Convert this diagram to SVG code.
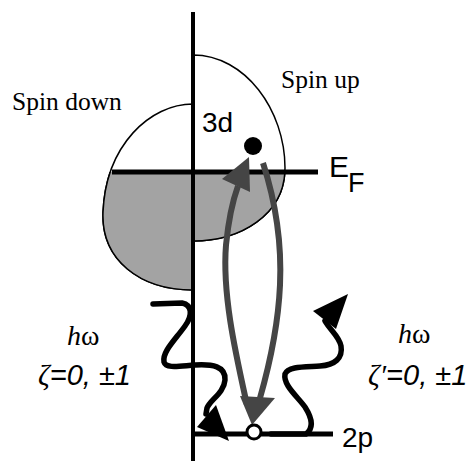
<svg xmlns="http://www.w3.org/2000/svg" width="472" height="461" viewBox="0 0 472 461">
<style>
.band{fill:#fff;stroke:#000;stroke-width:1.5}
.fill{fill:#a3a3a3;stroke:#000;stroke-width:1.5}
.lvl{stroke:#000;stroke-width:5;fill:none}
.gray{fill:none;stroke:#454545;stroke-width:6}
.grayhead{fill:#454545}
.wave{fill:none;stroke:#000;stroke-width:5.5;stroke-linecap:round;stroke-linejoin:round}
.serif{font-family:"Liberation Serif","Times New Roman",serif;fill:#000}
.sans{font-family:"Liberation Sans",Arial,sans-serif;fill:#000}
</style>
<defs>
<clipPath id="below"><rect x="0" y="172" width="472" height="289"/></clipPath>
</defs>
<rect width="472" height="461" fill="#fff"/>
<g id="spin-down-band">
<path class="band" d="M193,104 C150,104 106,145 103,212 C101,260 140,290 193,290 Z"/>
<path class="fill" clip-path="url(#below)" d="M193,104 C150,104 106,145 103,212 C101,260 140,290 193,290 Z"/>
</g>
<g id="spin-up-band">
<path class="band" d="M193,55 C245,55 285,110 285,168 C285,215 240,241 193,241 Z"/>
<path class="fill" clip-path="url(#below)" d="M193,55 C245,55 285,110 285,168 C285,215 240,241 193,241 Z"/>
</g>
<g id="fermi-level">
<line class="lvl" x1="112" y1="172" x2="318" y2="172"/>
<text class="sans" x="329" y="177" font-size="30">E</text>
<text class="sans" x="348" y="192" font-size="27">F</text>
</g>
<g id="axis">
<line x1="193" y1="12" x2="193" y2="461" stroke="#000" stroke-width="4"/>
</g>
<g id="level-2p">
<line class="lvl" x1="193" y1="434" x2="333" y2="434"/>
<text class="sans" x="342" y="447" font-size="28">2p</text>
</g>
<g id="labels">
<text class="serif" x="12" y="110" font-size="25.5">Spin down</text>
<text class="serif" x="281" y="88" font-size="25.5">Spin up</text>
<text class="sans" x="202" y="132" font-size="28">3d</text>
<text class="serif" x="67" y="345" font-size="28"><tspan font-style="italic">h</tspan>ω</text>
<text class="sans" x="38" y="385" font-size="29"><tspan class="serif" font-style="italic">ζ</tspan><tspan font-style="italic">=0, ±1</tspan></text>
<text class="serif" x="398" y="343" font-size="28"><tspan font-style="italic">h</tspan>ω</text>
<text class="sans" x="368" y="385" font-size="29"><tspan class="serif" font-style="italic">ζ′</tspan><tspan font-style="italic">=0, ±1</tspan></text>
</g>
<g id="connectors">
<path class="gray" d="M247,405 C236,355 222,295 226,245 C229,215 234,197 238,186"/>
<polygon class="grayhead" points="249,157 222,179 250,192"/>
<path class="gray" d="M263,163 C275,200 282,240 280,285 C278,330 268,370 260,398"/>
<polygon class="grayhead" points="240,396 275,398 252,425"/>
<path class="wave" d="M153,304 L182,303 C192,305 193,315 185,326 C175,340 162,352 164,362 C166,369 180,366 195,365 C212,364 226,366 225,380 C224,393 210,400 207,408 L206,414"/>
<polygon points="197,427 216,405 229,441" fill="#000"/>
<path class="wave" d="M271,434 L306,434 C314,428 312,418 305,407 C297,396 283,385 285,374 C288,366 305,367 320,366 C335,365 343,358 341,346 C339,336 330,330 325,321"/>
<polygon points="313,311 348,294 336,329" fill="#000"/>
</g>
<g id="states">
<circle cx="253" cy="146" r="9" fill="#000"/>
<circle cx="254" cy="432" r="7" fill="#fff" stroke="#000" stroke-width="3"/>
</g>
</svg>
